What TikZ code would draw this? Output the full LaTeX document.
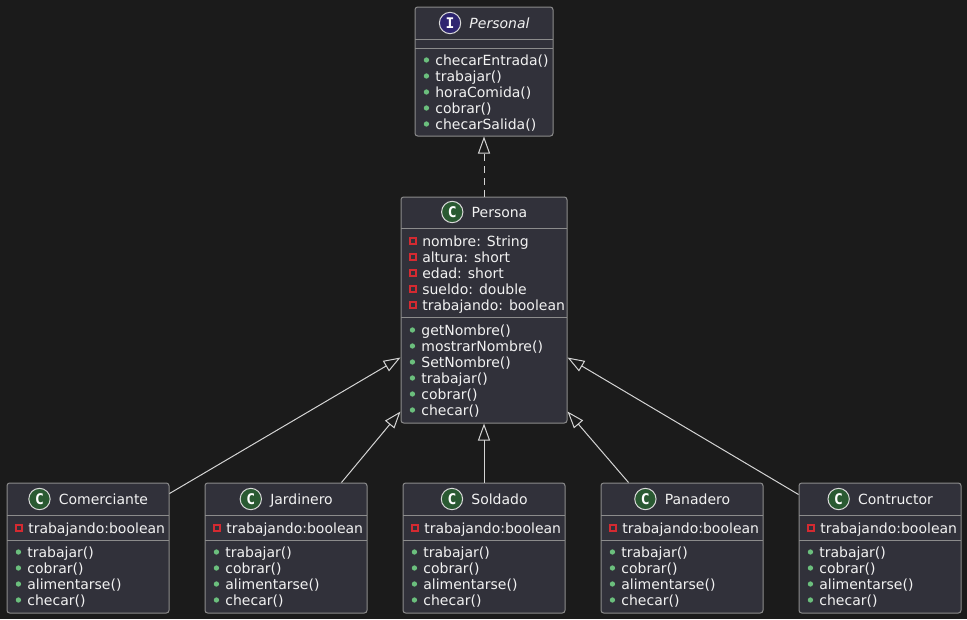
\documentclass[tikz,border=0pt]{standalone}
\usepackage{fontspec}
\setmainfont{DejaVu Sans}
\newfontfamily\iconfont{DejaVu Sans Mono}
\usetikzlibrary{positioning,fit,arrows.meta}

\definecolor{bgcol}{HTML}{1B1B1B}
\definecolor{boxfill}{HTML}{31313A}
\definecolor{boxline}{HTML}{8C8C8C}
\definecolor{linkcol}{HTML}{D4D4D4}
\definecolor{textcol}{HTML}{F2F2F2}
\definecolor{pubgreen}{HTML}{6BBF7D}
\definecolor{privred}{HTML}{D42A31}
\definecolor{classgreen}{HTML}{2A5A32}
\definecolor{ifacepurple}{HTML}{2E2570}

% member markers
\newcommand\pubdot{\tikz[baseline=-3.75pt]\fill[pubgreen] (0pt,0pt) circle[radius=2pt];\hspace{4.7pt}}
\newcommand\privsq{\tikz[baseline=-3.75pt]\draw[privred, line width=0.95pt] (-2.3pt,-2.3pt) rectangle (2.3pt,2.3pt);\hspace{4.2pt}}

\begin{document}
\begin{tikzpicture}[x=0.75pt, y=-0.75pt,
    classbox/.style={draw=boxline, fill=boxfill, line width=0.75pt, rounded corners=2pt, inner sep=0pt},
    sepline/.style={draw=boxline, line width=0.75pt},
    classname/.style={text=textcol, font=\fontsize{10.5}{12}\selectfont, inner sep=0pt, text height=8pt, text depth=0.5pt},
    classicon/.style={circle, draw=white!85!black, fill=classgreen, line width=0.75pt, minimum size=16pt, inner sep=0pt, text=white, font=\iconfont\bfseries\fontsize{11}{11}\selectfont},
    ifaceicon/.style={classicon, fill=ifacepurple},
    members/.style={anchor=base west, align=left, inner sep=0pt, text=textcol, font=\fontsize{10.5}{12}\selectfont},
    extends/.style={draw=linkcol, line width=0.75pt, -{Triangle[open, length=12.75pt, width=9pt]}},
    implements/.style={extends, dash pattern=on 5pt off 4pt}]
    \useasboundingbox (0,0) rectangle (967,619);
    \fill[bgcol] (0,0) rectangle (967,619);
    % interface (member nodes sit on the baseline of their last line)
    \node[classbox, fit={(415,7) (553,136)}] (personal) {};
    \draw[sepline] (415,39) -- (553,39);
    \draw[sepline] (415,48) -- (553,48);
    \node[classname] (personalName) at (499.5,23) {\itshape Personal};
    \node[ifaceicon, left=6pt of personalName] (personalIcon) {I};
    \node[members] (personalOps) at (423.5,129) {\pubdot checarEntrada()\\\pubdot trabajar()\\\pubdot horaComida()\\\pubdot cobrar()\\\pubdot checarSalida()};
    % base class
    \node[classbox, fit={(401,197) (567,423)}] (persona) {};
    \draw[sepline] (401,228) -- (567,228);
    \draw[sepline] (401,317) -- (567,317);
    \node[classname] (personaName) at (499.5,212) {Persona};
    \node[classicon, left=6pt of personaName] (personaIcon) {C};
    \node[members] (personaAttrs) at (409,310) {\privsq nombre: String\\\privsq altura: short\\\privsq edad: short\\\privsq sueldo: double\\\privsq trabajando: boolean};
    \node[members] (personaOps) at (409.5,415) {\pubdot getNombre()\\\pubdot mostrarNombre()\\\pubdot SetNombre()\\\pubdot trabajar()\\\pubdot cobrar()\\\pubdot checar()};
    % subclasses
    \node[classbox, fit={(7,483) (169,613)}] (comerciante) {};
    \draw[sepline] (7,515) -- (169,515);
    \draw[sepline] (7,540) -- (169,540);
    \node[classname] (comercianteName) at (103.5,499) {Comerciante};
    \node[classicon, left=6pt of comercianteName] (comercianteIcon) {C};
    \node[members] (comercianteAttr) at (15,533) {\privsq trabajando:boolean};
    \node[members] (comercianteOps) at (15.5,605) {\pubdot trabajar()\\\pubdot cobrar()\\\pubdot alimentarse()\\\pubdot checar()};
    \node[classbox, fit={(205,483) (367,613)}] (jardinero) {};
    \draw[sepline] (205,515) -- (367,515);
    \draw[sepline] (205,540) -- (367,540);
    \node[classname] (jardineroName) at (301.5,499) {Jardinero};
    \node[classicon, left=6pt of jardineroName] (jardineroIcon) {C};
    \node[members] (jardineroAttr) at (213,533) {\privsq trabajando:boolean};
    \node[members] (jardineroOps) at (213.5,605) {\pubdot trabajar()\\\pubdot cobrar()\\\pubdot alimentarse()\\\pubdot checar()};
    \node[classbox, fit={(403,483) (565,613)}] (soldado) {};
    \draw[sepline] (403,515) -- (565,515);
    \draw[sepline] (403,540) -- (565,540);
    \node[classname] (soldadoName) at (499.5,499) {Soldado};
    \node[classicon, left=6pt of soldadoName] (soldadoIcon) {C};
    \node[members] (soldadoAttr) at (411,533) {\privsq trabajando:boolean};
    \node[members] (soldadoOps) at (411.5,605) {\pubdot trabajar()\\\pubdot cobrar()\\\pubdot alimentarse()\\\pubdot checar()};
    \node[classbox, fit={(601,483) (763,613)}] (panadero) {};
    \draw[sepline] (601,515) -- (763,515);
    \draw[sepline] (601,540) -- (763,540);
    \node[classname] (panaderoName) at (697.5,499) {Panadero};
    \node[classicon, left=6pt of panaderoName] (panaderoIcon) {C};
    \node[members] (panaderoAttr) at (609,533) {\privsq trabajando:boolean};
    \node[members] (panaderoOps) at (609.5,605) {\pubdot trabajar()\\\pubdot cobrar()\\\pubdot alimentarse()\\\pubdot checar()};
    \node[classbox, fit={(799,483) (961,613)}] (contructor) {};
    \draw[sepline] (799,515) -- (961,515);
    \draw[sepline] (799,540) -- (961,540);
    \node[classname] (contructorName) at (895.5,499) {Contructor};
    \node[classicon, left=6pt of contructorName] (contructorIcon) {C};
    \node[members] (contructorAttr) at (807,533) {\privsq trabajando:boolean};
    \node[members] (contructorOps) at (807.5,605) {\pubdot trabajar()\\\pubdot cobrar()\\\pubdot alimentarse()\\\pubdot checar()};
    % relations
    \draw[implements] (persona.north) -- (personal.south);
    \draw[extends] ([yshift=-8.25pt]comerciante.north east) -- ([yshift=49.5pt]persona.south west);
    \draw[extends] ([xshift=-19.5pt]jardinero.north east) -- ([yshift=9pt]persona.south west);
    \draw[extends] (soldado.north) -- (persona.south);
    \draw[extends] ([xshift=21pt]panadero.north west) -- ([yshift=9pt]persona.south east);
    \draw[extends] ([yshift=-9pt]contructor.north west) -- ([yshift=49.5pt]persona.south east);
\end{tikzpicture}
\end{document}
